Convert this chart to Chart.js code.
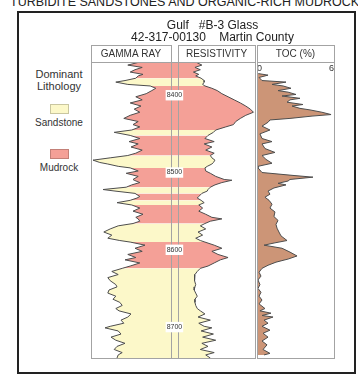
<!DOCTYPE html>
<html>
<head>
<meta charset="utf-8">
<script src="https://cdn.jsdelivr.net/npm/chart.js"></script>
<style>
    body { margin: 0; background: #fff; font-family: "Liberation Sans", Arial, sans-serif; color: #333; }
    #pagina { position: relative; width: 358px; height: 379px; overflow: hidden; }
    #cabecalho { position: absolute; left: 10px; top: -4px; font-size: 12.5px; line-height: 12px; white-space: nowrap; color: #222; }
    #moldura { position: absolute; left: 17px; top: 11px; width: 335px; height: 359px; border: 2px solid #222; }
    #legenda { position: absolute; left: 22px; top: 68px; width: 74px; text-align: center; }
    #legenda .titulo { font-size: 11px; line-height: 12px; }
    #legenda .amostra { width: 19px; height: 10px; margin: 12px auto 3px; box-sizing: border-box; border: 1px solid rgba(0, 0, 0, 0.2); }
    #legenda .item + .item .amostra { margin-top: 20px; }
    #legenda .nome { font-size: 10px; line-height: 12px; }
    #grafico { position: absolute; left: 80px; top: 14px; width: 265px; height: 352px; }
</style>
</head>
<body>
<div id="pagina">
    <div id="cabecalho">TURBIDITE SANDSTONES AND ORGANIC-RICH MUDROCKS</div>
    <div id="moldura"></div>
    <div id="legenda"><div class="titulo">Dominant<br>Lithology</div></div>
    <div id="grafico"><canvas id="perfilPoco"></canvas></div>
</div>
<script>
// Profundidade (ft) das leituras de raios gama e resistividade
const profundidade = [
    8357, 8361, 8364, 8367, 8370, 8373, 8375, 8378,
    8381, 8383, 8386, 8388,
    8391, 8394, 8398, 8402, 8406, 8410, 8414, 8418, 8422, 8426, 8430, 8434, 8438, 8441, 8445,
    8448, 8452,
    8456, 8460, 8463, 8467, 8471, 8475, 8478,
    8481, 8484, 8487, 8489, 8492, 8494,
    8498, 8501, 8505, 8509, 8510, 8513, 8516, 8519,
    8522, 8524, 8527,
    8531, 8533, 8536,
    8539, 8542,
    8546, 8550, 8554, 8558, 8560, 8563, 8566,
    8569, 8573, 8577, 8581, 8585, 8588, 8590,
    8594, 8598, 8602, 8606, 8610, 8613, 8617, 8621, 8624,
    8628, 8632, 8636, 8640, 8645, 8648, 8652, 8656, 8660, 8664, 8668, 8672, 8676, 8679, 8683,
    8687, 8691, 8695, 8699, 8701, 8705, 8709, 8713, 8717, 8721, 8725, 8729, 8733, 8736, 8740
];

// Raios gama (API)
const raiosGama = [
    122, 92, 128, 110, 98, 130, 118, 112,
    85, 62, 92, 148,
    162, 152, 138, 112, 128, 98, 125, 108, 122, 98, 82, 118, 105, 122, 102,
    58, 98,
    122, 95, 118, 100, 128, 112, 92,
    48, 5, 22, 42, 68, 98,
    118, 88, 118, 105, 108, 122, 102, 88,
    30, 60, 110,
    122, 115, 98,
    65, 102,
    122, 105, 130, 112, 118, 122, 105,
    68, 48, 32, 52, 42, 72, 98,
    135, 110, 128, 92, 112, 85, 122, 98, 78,
    52, 68, 42, 48, 62, 65, 45, 42, 62, 55, 72, 78, 62, 70, 100,
    92, 75, 82, 48, 35, 68, 75, 50, 62, 85, 65, 58, 78, 68, 65
];

// Resistividade (ohm.m)
const resistividade = [
    23, 31, 22, 29, 20, 27, 23, 30,
    34, 34, 32, 35,
    44, 51, 57, 65, 73, 81, 88, 94, 98, 88, 81, 75, 72, 62, 49,
    46, 39,
    35, 47, 34, 44, 36, 47, 42,
    44, 48, 46, 44, 38, 35,
    36, 42, 49, 60, 70, 57, 48, 42,
    39, 38, 31,
    27, 25, 30,
    34, 27,
    32, 27, 36, 44, 57, 42, 35,
    29, 36, 26, 32, 23, 29, 35,
    47, 57, 44, 52, 65, 55, 47, 39, 29,
    25, 22, 22, 21, 23, 22, 21, 23, 25, 22, 22, 23, 25, 29, 35,
    26, 42, 27, 34, 44, 30, 46, 32, 49, 31, 39, 29, 47, 36, 42
];

// Carbono orgânico total (%) e suas profundidades
const profundidadeTOC = [
    8372, 8374, 8377, 8381, 8383, 8386, 8388, 8391, 8394, 8396, 8399, 8401, 8404, 8406, 8409, 8412,
    8414, 8417, 8419, 8422, 8425, 8427, 8430, 8432, 8435, 8440, 8445, 8450, 8456, 8460, 8463, 8469,
    8474, 8478, 8483, 8488, 8492, 8494, 8500, 8504, 8506, 8509, 8511, 8514, 8516, 8520, 8524, 8528,
    8532, 8536, 8541, 8546, 8551, 8557, 8562, 8567, 8572, 8577, 8582, 8588, 8591, 8594, 8598, 8603,
    8608, 8612, 8616, 8620, 8624, 8629, 8634, 8639, 8645, 8650, 8655, 8660, 8665, 8670, 8676, 8679,
    8682, 8685, 8687, 8691, 8695, 8699, 8704, 8708, 8713, 8718, 8723, 8729, 8734, 8736
];
const toc = [
    0.1, 0.86, 0.16, 0.39, 2.26, 1.17, 2.03, 2.65, 1.64, 2.42, 3.04, 1.95, 3.35, 2.57, 2.34, 3.58,
    2.73, 3.35, 4.13, 5.06, 5.77, 4.29, 2.57, 1.01, 0.86, 0.39, 1.01, 0.23, 0.39, 1.17, 0.39, 0.62,
    1.4, 0.39, 0.7, 1.17, 0.08, 0.08, 0.39, 2.96, 4.36, 2.57, 2.42, 1.64, 2.26, 1.32, 0.86, 1.01,
    0.62, 0.94, 1.17, 1.01, 1.4, 1.32, 1.64, 1.48, 1.56, 1.71, 1.87, 2.34, 1.4, 0.55, 1.95, 2.57,
    3.12, 2.42, 1.48, 0.86, 0.39, 0.16, 0.31, 0.08, 0.23, 0.08, 0.31, 0.16, 0.39, 0.16, 0.62, 0.23,
    1.09, 0.39, 1.25, 0.55, 0.86, 0.39, 1.01, 0.47, 0.86, 0.39, 0.78, 0.47, 1.01, 0.55
];

// Camadas: topo (ft) e litologia dominante (S = arenito, M = lamito)
const topoCamadas = [8357, 8378, 8388, 8445, 8452, 8478, 8494, 8519, 8527, 8536, 8542, 8566, 8590, 8624];
const tipoCamadas = ['M', 'S', 'M', 'S', 'M', 'S', 'M', 'S', 'M', 'S', 'M', 'S', 'M', 'S'];
const baseLog = 8740;
const marcasProfundidade = [8400, 8500, 8600, 8700];

const nomesLitologia = { S: 'Sandstone', M: 'Mudrock' };
const coresLitologia = { S: '#fcf8c9', M: '#f4a097' };
const corTOC = '#cc9577';
const corCurva = '#4d4d4d';
const corMoldura = '#a3a3a3';
const alturaCabecalho = 17;

Chart.defaults.font.family = '"Liberation Sans", Arial, sans-serif';
Chart.defaults.color = '#333';

// Legenda de litologia
const legenda = document.getElementById('legenda');
['S', 'M'].forEach(tipo => {
    const item = document.createElement('div');
    item.className = 'item';
    item.innerHTML = `<div class="amostra" style="background:${coresLitologia[tipo]}"></div><div class="nome">${nomesLitologia[tipo]}</div>`;
    legenda.appendChild(item);
});

const camadas = topoCamadas.map((topo, i) => ({
    topo,
    base: i + 1 < topoCamadas.length ? topoCamadas[i + 1] : baseLog,
    tipo: tipoCamadas[i]
}));

const pontos = (valores, prof) => valores.map((v, i) => ({ x: v, y: prof[i] }));

// Um preenchimento por camada, da curva até a borda da trilha
const preenchimentos = (valores, eixo, alvo) => camadas.map(c => ({
    label: eixo + ' ' + c.topo,
    xAxisID: eixo,
    data: pontos(valores, profundidade).filter(p => p.y >= c.topo && p.y <= c.base),
    borderColor: 'rgba(0,0,0,0)',
    borderWidth: 0,
    backgroundColor: coresLitologia[c.tipo],
    fill: { value: alvo }
}));

// Coluna de litologia entre raios gama e resistividade
const colunaLitologia = camadas.map(c => ({
    label: 'coluna ' + c.topo,
    xAxisID: 'meio',
    data: [{ x: 1, y: c.topo }, { x: 1, y: c.base }],
    borderColor: 'rgba(0,0,0,0)',
    borderWidth: 0,
    backgroundColor: coresLitologia[c.tipo],
    fill: { value: 0 }
}));

// Eixo de cada trilha, lado a lado no topo
const trilha = (peso, extra) => Object.assign({
    type: 'linear',
    position: 'top',
    stack: 'trilhas',
    stackWeight: peso,
    grid: { display: false },
    border: { display: false },
    ticks: { display: false },
    afterFit: (escala) => { escala.height = alturaCabecalho; }
}, extra);

const tituloTrilha = (texto) => ({
    display: true,
    text: texto,
    font: { size: 10 },
    color: '#333',
    padding: { top: 3, bottom: 0 }
});

const px = (v) => Math.round(v) + 0.5;

// Contorno das trilhas e dos cabeçalhos
const molduraTrilhas = {
    id: 'molduraTrilhas',
    afterDatasetsDraw(chart) {
        const { ctx, chartArea } = chart;
        ctx.save();
        ctx.strokeStyle = corMoldura;
        ctx.lineWidth = 1;
        ['gr', 'meio', 'res', 'toc'].forEach(id => {
            const escala = chart.scales[id];
            const esquerda = px(escala.left);
            const direita = px(escala.right);
            const topo = id === 'meio' ? px(chartArea.top) : px(escala.top);
            ctx.strokeRect(esquerda, topo, direita - esquerda, px(chartArea.bottom) - topo);
            ctx.beginPath();
            ctx.moveTo(esquerda, px(chartArea.top));
            ctx.lineTo(direita, px(chartArea.top));
            ctx.stroke();
        });
        ctx.restore();
    }
};

const contexto = document.getElementById('perfilPoco').getContext('2d');
new Chart(contexto, {
    type: 'line',
    data: {
        // os primeiros conjuntos são desenhados por cima
        datasets: [{
            label: 'Gamma Ray',
            xAxisID: 'gr',
            data: pontos(raiosGama, profundidade),
            borderColor: corCurva,
            borderWidth: 1,
            fill: false
        }, {
            label: 'Resistivity',
            xAxisID: 'res',
            data: pontos(resistividade, profundidade),
            borderColor: corCurva,
            borderWidth: 1,
            fill: false
        }, {
            label: 'TOC (%)',
            xAxisID: 'toc',
            data: pontos(toc, profundidadeTOC),
            borderColor: corCurva,
            borderWidth: 1,
            backgroundColor: corTOC,
            fill: { value: 0 }
        },
        ...colunaLitologia,
        ...preenchimentos(raiosGama, 'gr', 200),
        ...preenchimentos(resistividade, 'res', 0)]
    },
    options: {
        indexAxis: 'y',
        responsive: true,
        maintainAspectRatio: false,
        animation: false,
        events: [],
        layout: { padding: { top: 0, left: 11, right: 11, bottom: 8 } },
        elements: { point: { radius: 0 }, line: { tension: 0 } },
        scales: {
            // a pilha do topo é montada da última trilha para a primeira
            toc: trilha(77, {
                min: 0,
                max: 6,
                title: tituloTrilha('TOC (%)'),
                afterBuildTicks: (escala) => { escala.ticks = [{ value: 0 }, { value: 6 }]; },
                ticks: { display: true, mirror: true, align: 'inner', padding: 1, font: { size: 9 }, color: '#333' }
            }),
            vao: trilha(2, { min: 0, max: 1 }),
            res: trilha(77, { min: 0, max: 100, title: tituloTrilha('RESISTIVITY') }),
            meio: trilha(7, { min: 0, max: 1 }),
            gr: trilha(80, { min: 0, max: 200, title: tituloTrilha('GAMMA RAY') }),
            y: {
                type: 'linear',
                reverse: true,
                min: topoCamadas[0],
                max: baseLog,
                // rótulos alinhados à direita: desloca meio rótulo para centralizar na coluna
                position: { meio: 1.6 },
                grid: { display: false },
                border: { display: false },
                afterBuildTicks: (escala) => { escala.ticks = marcasProfundidade.map(v => ({ value: v })); },
                ticks: {
                    z: 1,
                    padding: 0,
                    font: { size: 7 },
                    color: '#333',
                    showLabelBackdrop: true,
                    backdropColor: '#fff',
                    backdropPadding: { x: 1, y: 1 },
                    callback: (v) => String(v)
                }
            }
        },
        plugins: {
            legend: { display: false },
            tooltip: { enabled: false },
            title: {
                display: true,
                fullSize: false,
                text: ['Gulf   #B-3 Glass', '42-317-00130    Martin County'],
                font: { size: 12, weight: 'normal', lineHeight: 1 },
                color: '#222',
                padding: { top: 6, bottom: 1 }
            }
        }
    },
    plugins: [molduraTrilhas]
});
</script>
</body>
</html>
